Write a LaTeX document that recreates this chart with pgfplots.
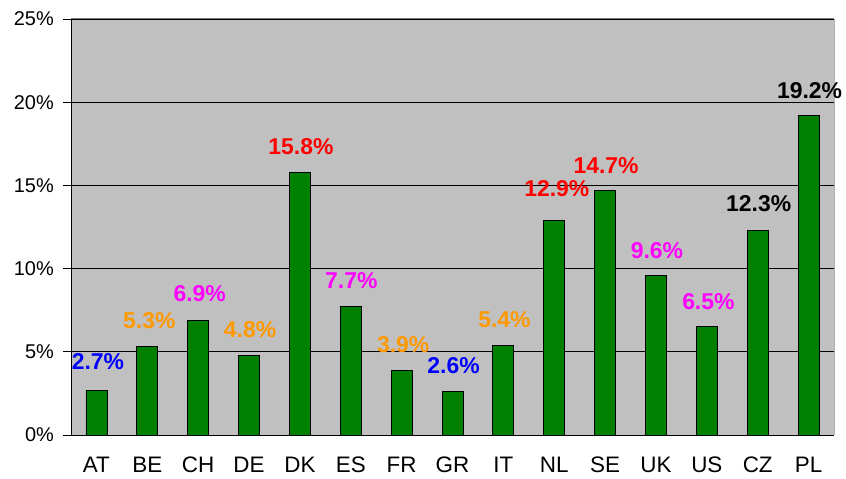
\documentclass[border=0pt]{standalone}
\usepackage{fontspec}
\setmainfont{Liberation Sans}
\usepackage{pgfplots}
\pgfplotsset{compat=1.18}
\definecolor{bgg}{RGB}{192,192,192}
\definecolor{barg}{RGB}{0,128,0}
\definecolor{lblue}{RGB}{0,0,255}
\definecolor{lorange}{RGB}{255,153,0}
\definecolor{lmag}{RGB}{255,0,255}
\definecolor{lred}{RGB}{255,0,0}
\begin{document}
\begin{tikzpicture}
\begin{axis}[
  scale only axis, width=763bp, height=416bp,
  xmin=-0.5, xmax=14.5, ymin=0, ymax=25,
  axis x line*=bottom, axis y line*=left,
  axis line style={black, line width=0.9pt, -},
  axis background/.style={fill=bgg},
  ytick={0,5,10,15,20,25},
  yticklabels={0\%,5\%,10\%,15\%,20\%,25\%},
  ymajorgrids, grid style={black, line width=0.8pt},
  y tick style={black, line width=0.9pt},
  tick align=outside, major tick length=8bp,
  yticklabel style={font=\fontsize{20}{20}\selectfont, inner sep=0pt, xshift=-9bp},
  xtick={0,...,14},
  xticklabels={AT,BE,CH,DE,DK,ES,FR,GR,IT,NL,SE,UK,US,CZ,PL},
  x tick style={draw=none},
  xticklabel style={font=\fontsize{22.5}{23}\selectfont, inner sep=0pt, yshift=-14bp},
  extra x ticks={-0.5,0.5,...,14.5},
  extra x tick labels={},
  extra x tick style={grid=none, tick style={draw=black, line width=0.9pt}},
  clip=false,
]
\draw[gray, line width=1pt] (rel axis cs:0,1) -- (rel axis cs:1,1);
\draw[gray!60, line width=1pt] (rel axis cs:1,1) -- (rel axis cs:1,0);
\addplot[ybar, bar width=21bp, fill=barg, draw=black, line width=0.8pt]
 coordinates {(0,2.7) (1,5.3) (2,6.9) (3,4.8) (4,15.8) (5,7.7) (6,3.9) (7,2.6) (8,5.4) (9,12.9) (10,14.7) (11,9.6) (12,6.5) (13,12.3) (14,19.2)};
\begin{scope}[every node/.style={font=\fontsize{23}{23}\bfseries\selectfont, inner sep=0pt}]
\node[text=lblue] at (axis cs:0.03,4.39) {2.7\%};
\node[text=lorange] at (axis cs:1.04,6.85) {5.3\%};
\node[text=lmag] at (axis cs:2.03,8.47) {6.9\%};
\node[text=lorange] at (axis cs:3.02,6.31) {4.8\%};
\node[text=lred] at (axis cs:4.02,17.34) {15.8\%};
\node[text=lmag] at (axis cs:5.01,9.25) {7.7\%};
\node[text=lorange] at (axis cs:6.03,5.41) {3.9\%};
\node[text=lblue] at (axis cs:7.02,4.15) {2.6\%};
\node[text=lorange] at (axis cs:8.02,6.91) {5.4\%};
\node[text=lred] at (axis cs:9.05,14.78) {12.9\%};
\node[text=lred] at (axis cs:10.02,16.17) {14.7\%};
\node[text=lmag] at (axis cs:11.02,11.06) {9.6\%};
\node[text=lmag] at (axis cs:12.03,7.99) {6.5\%};
\node[text=black] at (axis cs:13.02,13.88) {12.3\%};
\node[text=black] at (axis cs:14.02,20.67) {19.2\%};
\end{scope}
\end{axis}
\path (current axis.south west) +(-71bp,-44bp) (current axis.north east) +(12bp,19bp);
\end{tikzpicture}
\end{document}
